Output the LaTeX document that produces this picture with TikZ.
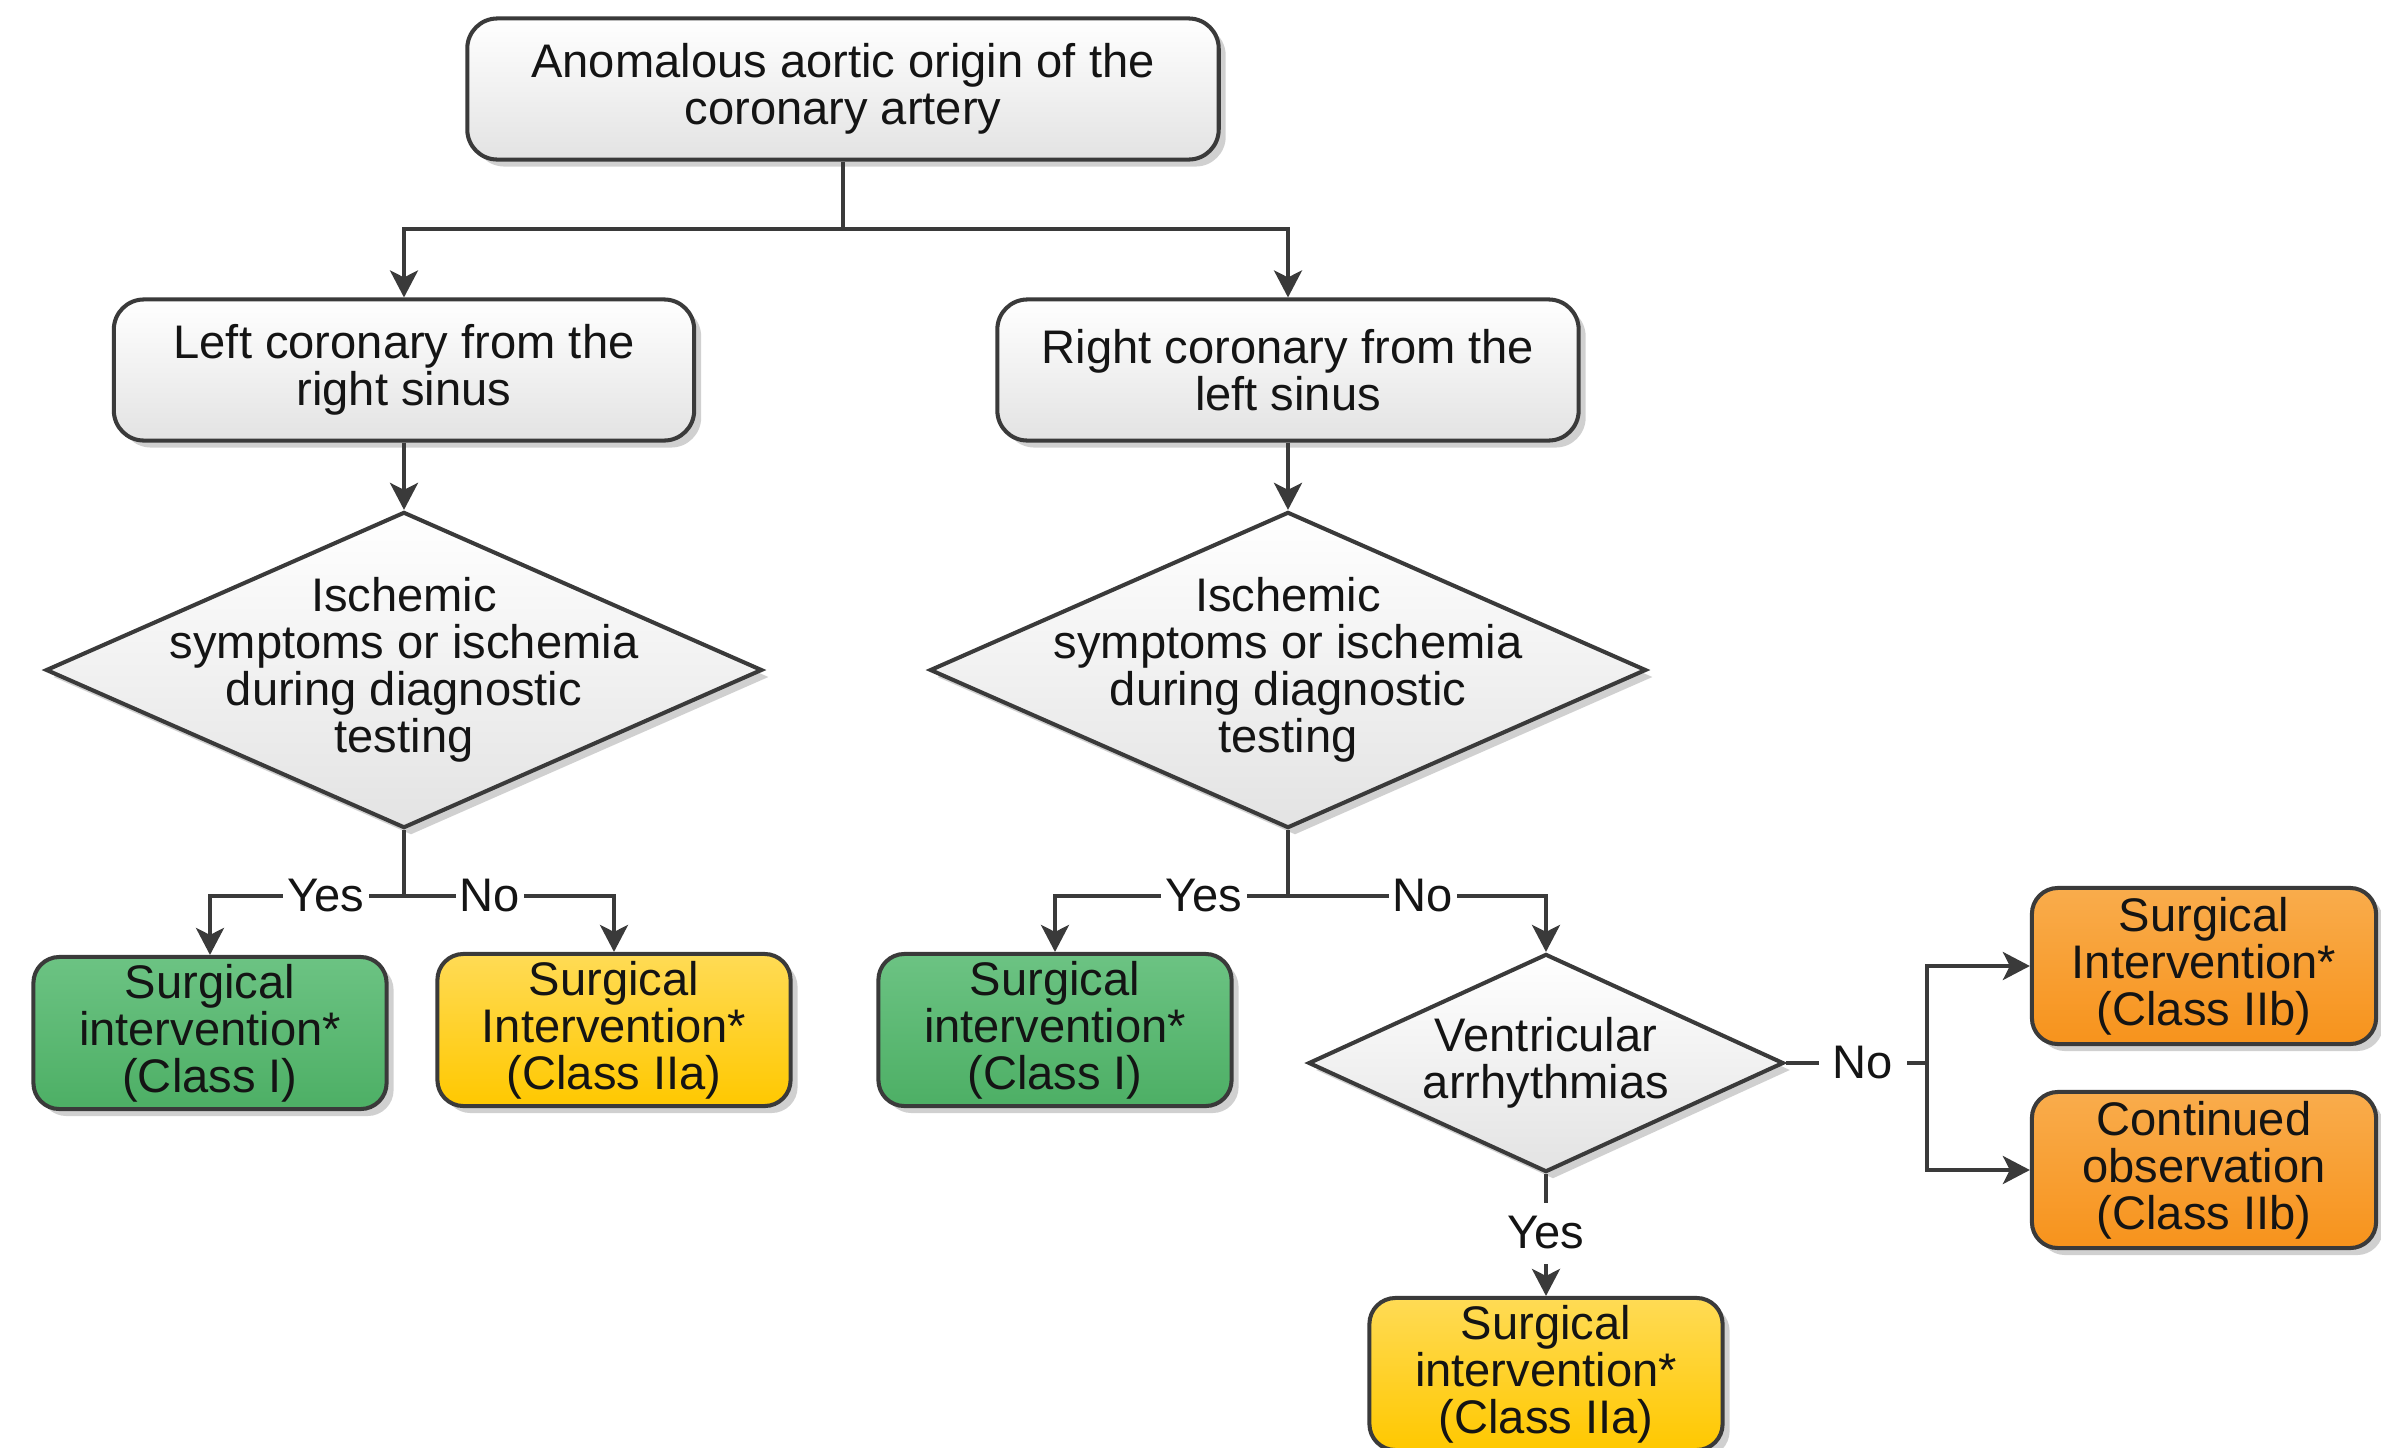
\documentclass[tikz,border=0pt]{standalone}
\usepackage{fontspec}
\setmainfont{Liberation Sans}
\usetikzlibrary{shapes.geometric,arrows.meta,shadows}
\definecolor{edge}{HTML}{3A3A3A}
\definecolor{txtc}{HTML}{141414}
\definecolor{green1}{HTML}{6CC383}
\definecolor{green2}{HTML}{4DAF65}
\definecolor{yellow1}{HTML}{FFDB55}
\definecolor{yellow2}{HTML}{FFC800}
\definecolor{orange1}{HTML}{F9AC4C}
\definecolor{orange2}{HTML}{F7931C}
\begin{document}
\begin{tikzpicture}[x=0.01cm,y=-0.01cm,
  txtstyle/.style={font=\fontsize{13.4}{13.4}\selectfont, text=txtc},
  shad/.style={drop shadow={shadow xshift=0.07cm, shadow yshift=-0.07cm, opacity=0.3, fill=black!60}},
  box/.style={draw=edge, line width=1.15pt, rounded corners=0.3cm, align=center, inner sep=0pt, txtstyle, shad},
  greybox/.style={box, top color=white, bottom color=black!11},
  greenbox/.style={box, rounded corners=0.26cm, top color=green1, bottom color=green2, minimum width=3.53cm, minimum height=1.52cm},
  yellowbox/.style={box, rounded corners=0.26cm, top color=yellow1, bottom color=yellow2, minimum width=3.53cm, minimum height=1.52cm},
  orangebox/.style={box, rounded corners=0.26cm, top color=orange1, bottom color=orange2, minimum width=3.44cm, minimum height=1.56cm},
  dia/.style={diamond, draw=edge, line width=1.15pt, inner sep=0pt, top color=white, bottom color=black!11, shad},
  diatext/.style={align=center, inner sep=0pt, txtstyle},
  conn/.style={draw=edge, line width=1.1pt},
  arr/.style={conn, -{Stealth[length=0.27cm,width=0.28cm,inset=0.07cm]}},
  lab/.style={fill=white, inner sep=1.2pt, txtstyle}
]
\useasboundingbox[fill=white] (0,0) rectangle (2381,1448);

% nodes
\node[greybox, minimum width=7.51cm, minimum height=1.41cm] (top) at (843,89) {Anomalous aortic origin of the\\coronary artery};
\node[greybox, minimum width=5.8cm, minimum height=1.41cm] (L1) at (404,370) {Left coronary from the\\right sinus};
\node[greybox, minimum width=5.81cm, minimum height=1.41cm] (R1) at (1288,370) {Right coronary from the\\left sinus};

\node[dia, minimum width=7.16cm, minimum height=3.16cm] (D1) at (404,670) {};
\node[diatext] (D1t) at (D1.center) {Ischemic\\symptoms or ischemia\\during diagnostic\\testing};
\node[dia, minimum width=7.16cm, minimum height=3.16cm] (D2) at (1288,670) {};
\node[diatext] (D2t) at (D2.center) {Ischemic\\symptoms or ischemia\\during diagnostic\\testing};

\node[greenbox] (G1) at (210,1033) {Surgical\\intervention*\\(Class I)};
\node[yellowbox] (Y1) at (614,1030) {Surgical\\Intervention*\\(Class IIa)};
\node[greenbox] (G2) at (1055,1030) {Surgical\\intervention*\\(Class I)};

\node[dia, minimum width=4.75cm, minimum height=2.18cm] (V) at (1546,1063) {};
\node[diatext] (Vt) at (V.center) {Ventricular\\arrhythmias};

\node[orangebox] (O1) at (2204,966) {Surgical\\Intervention*\\(Class IIb)};
\node[orangebox] (O2) at (2204,1170) {Continued\\observation\\(Class IIb)};
\node[yellowbox] (Y2) at (1546,1374) {Surgical\\intervention*\\(Class IIa)};

% connectors
\draw[conn] (top.south) -- (843,229) coordinate (j0);
\draw[arr] (j0) -| (L1.north);
\draw[arr] (j0) -| (R1.north);
\draw[arr] (L1.south) -- (D1.north);
\draw[arr] (R1.south) -- (D2.north);

\draw[conn] (D1.south) -- (404,896) coordinate (j1);
\draw[arr] (j1) -| (G1.north);
\draw[arr] (j1) -| (Y1.north);
\node[lab] (yes1) at (326,896) {Yes};
\node[lab] (no1) at (490,896) {No};

\draw[conn] (D2.south) -- (1288,896) coordinate (j2);
\draw[arr] (j2) -| (G2.north);
\draw[arr] (j2) -| (V.north);
\node[lab] (yes2) at (1204,896) {Yes};
\node[lab] (no2) at (1423,896) {No};

\draw[conn] (V.east) -- (1927,1063) coordinate (j3);
\draw[arr] (j3) |- (O1.west);
\draw[arr] (j3) |- (O2.west);
\node[lab, inner xsep=4pt] (no3) at (1863,1063) {No};

\draw[arr] (V.south) -- (Y2.north);
\node[lab, inner ysep=4pt] (yes3) at (1546,1233) {Yes};
\end{tikzpicture}
\end{document}
